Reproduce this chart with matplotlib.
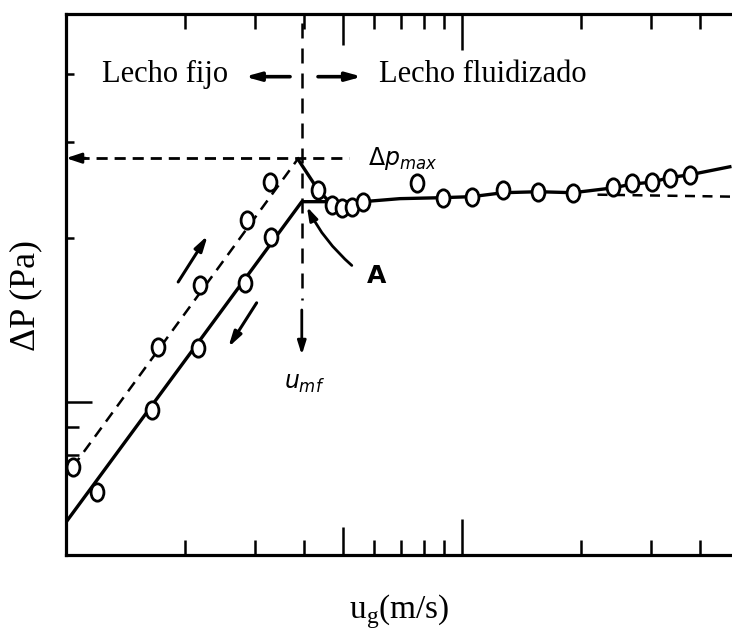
import matplotlib
matplotlib.use("Agg")
import matplotlib.pyplot as plt
from matplotlib.path import Path
from matplotlib.markers import MarkerStyle
from matplotlib.transforms import Affine2D
from matplotlib.ticker import FixedLocator, NullFormatter

plt.rcParams["font.family"] = "Liberation Serif"
plt.rcParams["mathtext.fontset"] = "custom"
plt.rcParams["mathtext.rm"] = "Liberation Serif"

# lecho fijo, velocidad creciente (discontinua)
x_up = [0.104, 0.171, 0.218, 0.286, 0.328]
y_up = [0.760, 1.26, 1.64, 2.16, 2.53]
x_up_line = [0.104, 0.385]
y_up_line = [0.760, 2.79]

# lecho fijo, velocidad decreciente (continua)
x_down = [0.120, 0.165, 0.215, 0.283, 0.330]
y_down = [0.684, 0.967, 1.256, 1.65, 2.01]
x_down_line = [0.100, 0.394, 0.562]
y_down_line = [0.602, 2.33, 2.33]

# lecho fluidizado
x_fl = [0.433, 0.470, 0.498, 0.527, 0.562, 0.770, 0.896, 1.06, 1.27, 1.56,
        1.91, 2.41, 2.69, 3.02, 3.35, 3.76]
y_fl = [2.45, 2.30, 2.27, 2.28, 2.33, 2.52, 2.37, 2.38, 2.45, 2.43,
        2.42, 2.48, 2.52, 2.53, 2.58, 2.61]
x_fl_line = [0.385, 0.433, 0.470, 0.498, 0.527, 0.562, 0.697, 0.896, 1.06,
             1.27, 1.56, 1.91, 2.41, 2.69, 3.02, 3.35, 3.76, 4.75]
y_fl_line = [2.79, 2.45, 2.30, 2.27, 2.28, 2.33, 2.36, 2.37, 2.38,
             2.42, 2.43, 2.42, 2.47, 2.51, 2.53, 2.58, 2.61, 2.70]
x_ext = [2.2, 4.81]
y_ext = [2.40, 2.38]

dp_max = 2.80
u_mf = 0.394

x_ticks_minor = [0.2, 0.3, 0.4, 0.5, 0.6, 0.7, 0.8, 0.9, 2, 3, 4]
y_ticks_minor = [0.8, 0.9, 2, 3, 4]

fig = plt.figure(figsize=(7.32, 6.30), dpi=100)
ax = fig.add_axes([0.0902, 0.119, 0.9098, 0.859])
ax.set_xscale("log")
ax.set_yscale("log")
ax.set_xlim(0.1, 4.81)
ax.set_ylim(0.524, 5.15)

ell = MarkerStyle(Path.unit_circle().transformed(Affine2D().scale(0.74, 1.0)))
mk = dict(marker=ell, markersize=12.5, markerfacecolor="white",
          markeredgecolor="black", markeredgewidth=2.0, linestyle="none", zorder=5)

ax.plot(x_up_line, y_up_line, color="black", lw=1.8, dashes=(4.5, 3))
ax.plot(x_down_line, y_down_line, color="black", lw=2.4)
ax.plot(x_fl_line, y_fl_line, color="black", lw=2.4)
ax.plot(x_ext, y_ext, color="black", lw=1.8, dashes=(4, 3))
ax.plot(x_up, y_up, **mk)
ax.plot(x_down, y_down, **mk)
ax.plot(x_fl, y_fl, **mk)

# delta p max
ax.plot([0.107, 0.52], [dp_max, dp_max], color="black", lw=2, dashes=(4, 2.5))
ax.annotate("", xy=(0.1, dp_max), xytext=(0.112, dp_max),
            arrowprops=dict(arrowstyle="-|>,head_length=0.9,head_width=0.3",
                            color="black", lw=2, shrinkA=0, shrinkB=0))
ax.text(0.579, dp_max, r"$\Delta p_{max}$", math_fontfamily="dejavusans",
        fontsize=17, ha="left", va="center")

# u_mf
ax.plot([u_mf, u_mf], [4.95, 1.54], color="black", lw=1.8, dashes=(6, 4))
ax.annotate("", xy=(u_mf, 1.22), xytext=(u_mf, 1.475),
            arrowprops=dict(arrowstyle="-|>,head_length=0.8,head_width=0.25",
                            color="black", lw=2, shrinkA=0, shrinkB=0))
ax.text(0.40, 1.08, r"$u_{mf}$", math_fontfamily="dejavusans",
        fontsize=17, ha="center", va="center")

# punto A
ax.annotate("", xy=(0.406, 2.28), xytext=(0.527, 1.78),
            arrowprops=dict(arrowstyle="-|>,head_length=0.8,head_width=0.25",
                            color="black", lw=2, shrinkA=0, shrinkB=0,
                            connectionstyle="arc3,rad=-0.1"))
ax.text(0.61, 1.70, "A", family="DejaVu Sans", fontweight="bold",
        fontsize=18, ha="center", va="center")

# flechas de sentido
hs = "-|>,head_length=0.9,head_width=0.25"
ax.annotate("", xy=(0.228, 2.02), xytext=(0.192, 1.66),
            arrowprops=dict(arrowstyle=hs, color="black", lw=2.2, shrinkA=0, shrinkB=0))
ax.annotate("", xy=(0.257, 1.26), xytext=(0.303, 1.52),
            arrowprops=dict(arrowstyle=hs, color="black", lw=2.2, shrinkA=0, shrinkB=0))

# lecho fijo / fluidizado
ax.text(0.257, 3.87, "Lecho fijo", fontsize=22, ha="right", va="baseline")
ax.text(0.617, 3.87, "Lecho fluidizado", fontsize=22, ha="left", va="baseline")
ax.annotate("", xy=(0.283, 3.95), xytext=(0.368, 3.95),
            arrowprops=dict(arrowstyle=hs, color="black", lw=2.6, shrinkA=0, shrinkB=0))
ax.annotate("", xy=(0.559, 3.95), xytext=(0.433, 3.95),
            arrowprops=dict(arrowstyle=hs, color="black", lw=2.6, shrinkA=0, shrinkB=0))

# ejes y marcas
ax.xaxis.set_major_locator(FixedLocator([1]))
ax.xaxis.set_minor_locator(FixedLocator(x_ticks_minor))
ax.yaxis.set_major_locator(FixedLocator([1]))
ax.yaxis.set_minor_locator(FixedLocator(y_ticks_minor))
for axis in (ax.xaxis, ax.yaxis):
    axis.set_major_formatter(NullFormatter())
    axis.set_minor_formatter(NullFormatter())

ax.tick_params(axis="x", which="both", direction="in", top=True, bottom=True, width=1.8)
ax.tick_params(axis="x", which="major", length=26)
ax.tick_params(axis="x", which="minor", length=11)
ax.tick_params(axis="y", which="both", direction="in", left=True, right=False, width=1.8)
ax.tick_params(axis="y", which="major", length=19)
ax.tick_params(axis="y", which="minor", length=6)

for t, v in zip(ax.xaxis.get_minor_ticks(), x_ticks_minor):
    if v == 0.5:
        t.tick1line.set_markersize(20)
        t.tick2line.set_markersize(22)
for t, v in zip(ax.yaxis.get_minor_ticks(), y_ticks_minor):
    if v < 1:
        t.tick1line.set_markersize(9)

for s in ("left", "bottom", "top"):
    ax.spines[s].set_linewidth(2.3)
ax.spines["right"].set_visible(False)

ax.set_xlabel(r"u$_{\rm g}$(m/s)", fontsize=24)
ax.set_ylabel("ΔP (Pa)", fontsize=26)
ax.xaxis.set_label_coords(0.5, -0.068)
ax.yaxis.set_label_coords(-0.035, 0.479)

fig.savefig("out.png", dpi=100)
